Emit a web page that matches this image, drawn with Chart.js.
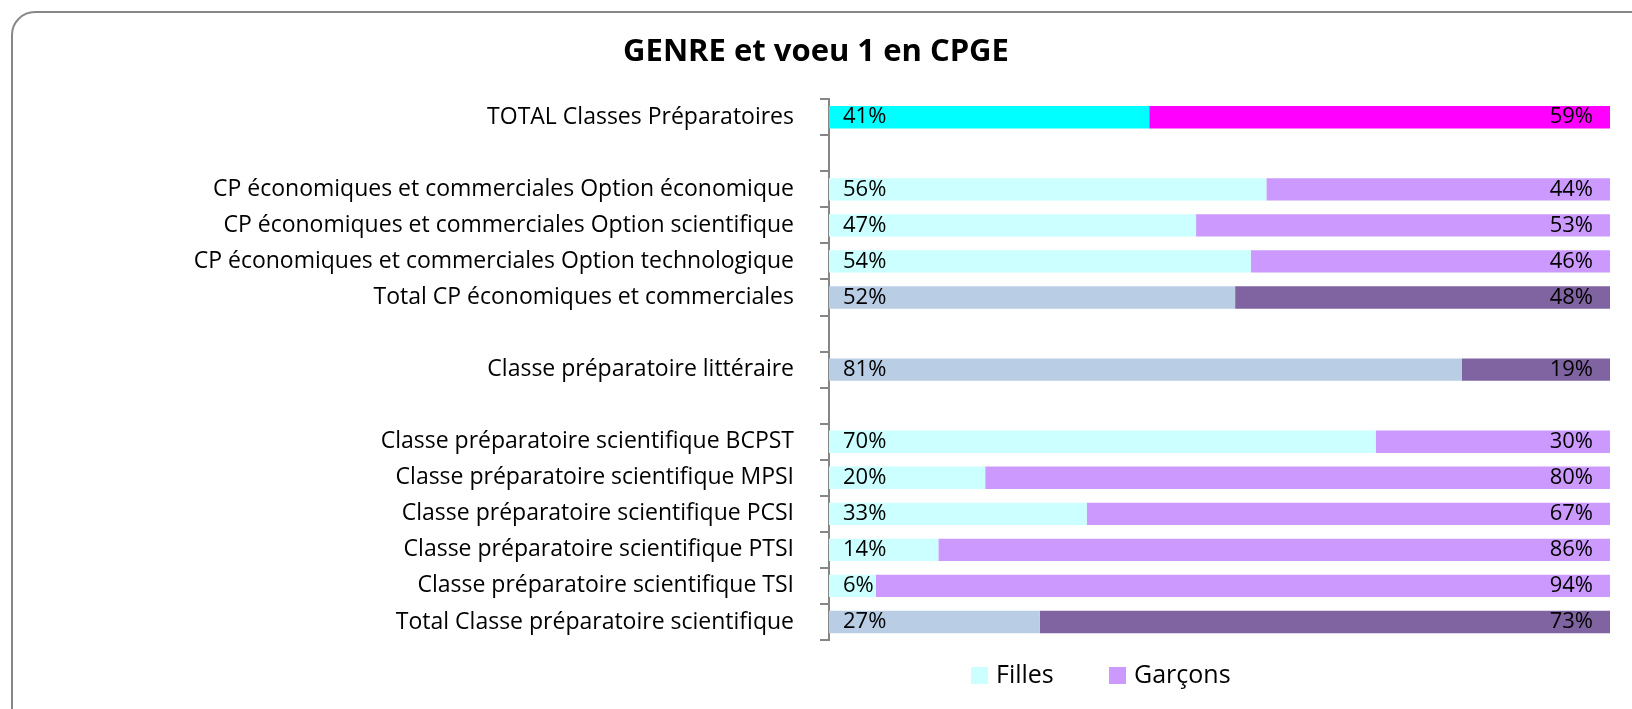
<!DOCTYPE html>
<html>
<head>
<meta charset="utf-8">
<script src="https://cdn.jsdelivr.net/npm/chart.js@4"></script>
<style>
    html, body { margin: 0; padding: 0; background: #ffffff; overflow: hidden; }
    #wrap { position: relative; width: 1632px; height: 709px; }
    #frame {
        position: absolute; left: 11px; top: 11px; width: 1650px; height: 730px;
        border: 2px solid #878787; border-radius: 24px; box-sizing: border-box;
    }
    canvas { position: absolute; left: 0; top: 0; }
</style>
</head>
<body>
<div id="wrap">
    <div id="frame"></div>
    <canvas id="genreChart" width="1632" height="709"></canvas>
</div>
<script>
// ============================================================================
// DATA
// ============================================================================

const categories = [
    'TOTAL Classes Préparatoires',
    '',
    'CP économiques et commerciales Option économique',
    'CP économiques et commerciales Option scientifique',
    'CP économiques et commerciales Option technologique',
    'Total CP économiques et commerciales',
    ' ',
    'Classe préparatoire littéraire',
    '  ',
    'Classe préparatoire scientifique BCPST',
    'Classe préparatoire scientifique MPSI',
    'Classe préparatoire scientifique PCSI',
    'Classe préparatoire scientifique PTSI',
    'Classe préparatoire scientifique TSI',
    'Total Classe préparatoire scientifique'
];

const fillesPct  = [41, null, 56, 47, 54, 52, null, 81, null, 70, 20, 33, 14, 6, 27];
const garconsPct = [59, null, 44, 53, 46, 48, null, 19, null, 30, 80, 67, 86, 94, 73];

// row kind: 'grand' total, 'sub' total, 'row' detail
const rowKind = ['grand', null, 'row', 'row', 'row', 'sub', null, 'sub', null,
                 'row', 'row', 'row', 'row', 'row', 'sub'];

const seriesLabels = ['Filles', 'Garçons'];

// ============================================================================
// COLOURS
// ============================================================================

const palette = {
    grand: ['#00FFFF', '#FF00FF'],
    sub:   ['#B9CDE5', '#8064A2'],
    row:   ['#CCFFFF', '#CC99FF']
};
const legendColors = ['#CCFFFF', '#CC99FF'];

const FONT = "'Open Sans', Lato, sans-serif";

function colorsFor(seriesIndex) {
    return rowKind.map(k => k ? palette[k][seriesIndex] : 'rgba(0,0,0,0)');
}

// ============================================================================
// PLUGINS
// ============================================================================

// percentage labels: Filles at bar start, Garçons at bar end
const valueLabels = {
    id: 'valueLabels',
    afterDatasetsDraw(chart) {
        const ctx = chart.ctx;
        const area = chart.chartArea;
        ctx.save();
        ctx.font = '22px ' + FONT;
        ctx.fillStyle = '#000000';
        ctx.textBaseline = 'middle';
        chart.data.datasets.forEach((ds, di) => {
            const meta = chart.getDatasetMeta(di);
            meta.data.forEach((bar, i) => {
                const v = ds.data[i];
                if (v === null || v === undefined) return;
                if (di === 0) {
                    ctx.textAlign = 'left';
                    ctx.fillText(v + '%', area.left + 14, bar.y);
                } else {
                    ctx.textAlign = 'right';
                    ctx.fillText(v + '%', area.right - 17, bar.y);
                }
            });
        });
        ctx.restore();
    }
};

// legend placed below the plot, as in the spreadsheet export
const bottomLegend = {
    id: 'bottomLegend',
    afterDraw(chart) {
        const ctx = chart.ctx;
        const y0 = 667, box = 17;
        const items = [
            { x: 971, label: seriesLabels[0], color: legendColors[0] },
            { x: 1109, label: seriesLabels[1], color: legendColors[1] }
        ];
        ctx.save();
        ctx.font = '25px ' + FONT;
        ctx.textAlign = 'left';
        ctx.textBaseline = 'middle';
        items.forEach(it => {
            ctx.fillStyle = it.color;
            ctx.fillRect(it.x, y0, box, box);
            ctx.fillStyle = '#000000';
            ctx.fillText(it.label, it.x + box + 8, y0 + box / 2);
        });
        ctx.restore();
    }
};

// ============================================================================
// CHART
// ============================================================================

const canvas = document.getElementById('genreChart');

new Chart(canvas, {
    type: 'bar',
    data: {
        labels: categories,
        datasets: [
            {
                label: seriesLabels[0],
                data: fillesPct,
                backgroundColor: colorsFor(0),
                borderWidth: 0,
                categoryPercentage: 1.0,
                barPercentage: 0.62
            },
            {
                label: seriesLabels[1],
                data: garconsPct,
                backgroundColor: colorsFor(1),
                borderWidth: 0,
                categoryPercentage: 1.0,
                barPercentage: 0.62
            }
        ]
    },
    options: {
        indexAxis: 'y',
        responsive: false,
        animation: false,
        layout: {
            // symmetric side padding keeps the title centred on the page
            padding: { left: 22, right: 22, top: 0, bottom: 69 }
        },
        scales: {
            x: {
                stacked: true,
                display: false,
                min: 0,
                max: 100
            },
            y: {
                stacked: true,
                afterFit(scale) { scale.width = 807; },
                border: { display: true, color: '#868686', width: 2 },
                grid: {
                    display: true,
                    offset: true,
                    drawOnChartArea: false,
                    drawTicks: true,
                    tickLength: 9,
                    color: '#868686',
                    lineWidth: 2
                },
                ticks: {
                    color: '#000000',
                    padding: 26,
                    autoSkip: false,
                    font: { family: FONT, size: 23 }
                }
            }
        },
        plugins: {
            legend: { display: false },
            tooltip: { enabled: false },
            title: {
                display: true,
                text: 'GENRE et voeu 1 en CPGE',
                color: '#000000',
                font: { family: FONT, size: 31, weight: 'bold', lineHeight: 1.2 },
                padding: { top: 34, bottom: 28 }
            }
        }
    },
    plugins: [valueLabels, bottomLegend]
});
</script>
</body>
</html>
